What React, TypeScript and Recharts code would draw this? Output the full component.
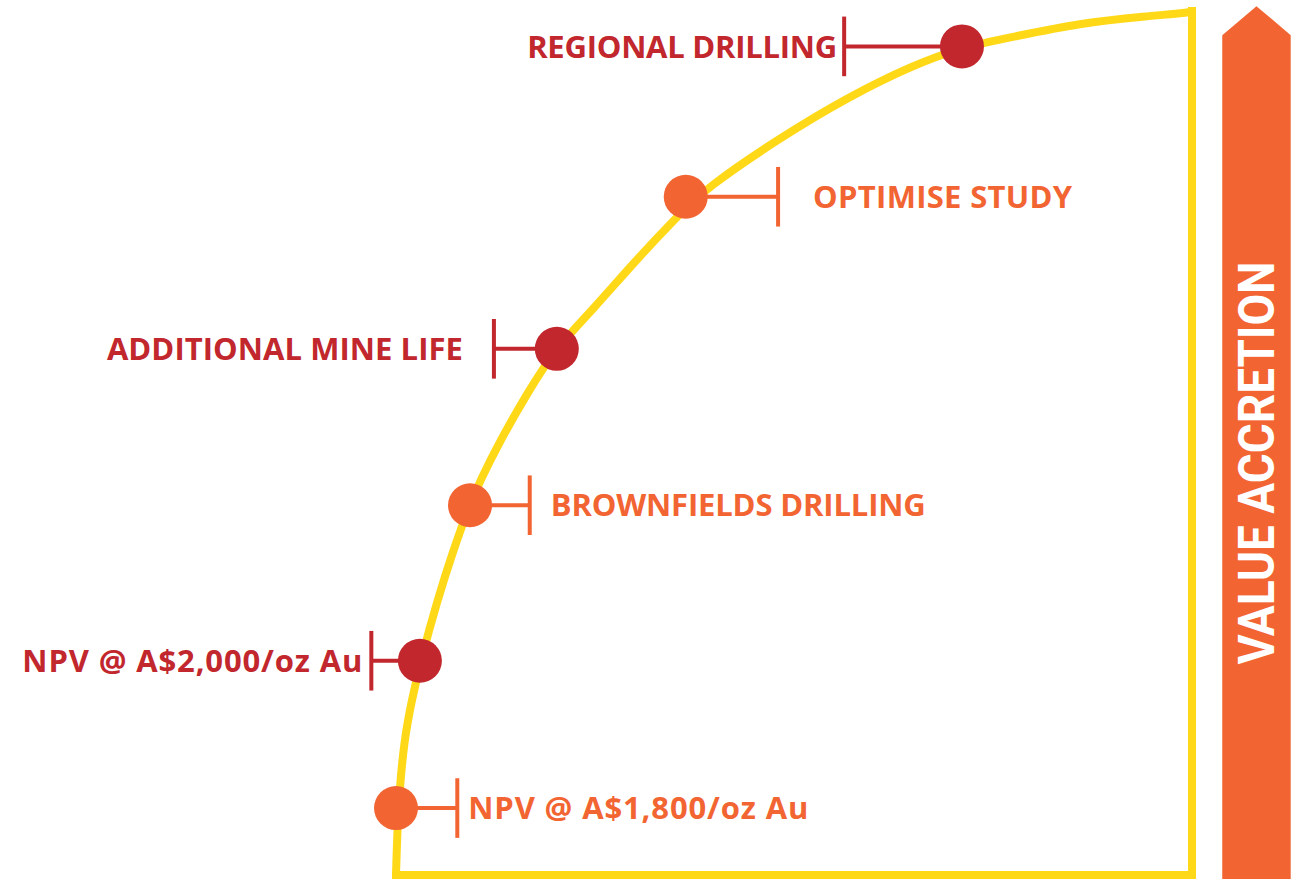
import React from 'react';
import { ComposedChart, XAxis, YAxis, Line, Scatter, ReferenceLine, ReferenceArea } from 'recharts';

// milestones along the value curve (x = progress, y = value, both 0..100)
const milestones = [
  'NPV @ A$1,800/oz Au',
  'NPV @ A$2,000/oz Au',
  'BROWNFIELDS DRILLING',
  'ADDITIONAL MINE LIFE',
  'OPTIMISE STUDY',
  'REGIONAL DRILLING',
];
const stageX = [0, 3.0, 9.3, 20.2, 36.4, 71.1];
const valueY = [7.75, 24.8, 42.8, 60.9, 78.5, 95.9];
// where each connector ends (its end bar)
const reachX = [7.7, -3.1, 16.8, 12.3, 48.0, 56.3];

// the yellow value curve
const curveX = [0, 0.25, 1.0, 2.0, 3.1, 5.2, 7.2, 9.2, 10.6, 13.1, 16.5, 20.1, 24.7, 29.8, 35.3, 39.1, 48.2, 56.7, 65.0, 71.1, 77.5, 85.9, 94.3, 99.7, 100];
const curveY = [0, 7.75, 15.6, 20.3, 24.8, 31.8, 37.6, 42.7, 45.7, 50.3, 55.8, 61.0, 65.4, 70.8, 76.2, 79.6, 85.3, 90.0, 93.75, 95.8, 97.0, 98.6, 99.4, 99.8, 100];

const frameX = [100, 100, 0];
const frameY = [100, 0, 0];

const ORANGE = '#F26532';
const RED = '#C1272D';
const YELLOW = '#FFD918';
const labelGap = [11, 9, 21, 31, 35, 7];
const labelWidth = [340, 340, 375, 356, 259, 310];

const curve = curveX.map((x, i) => ({ x, y: curveY[i] }));
const frame = frameX.map((x, i) => ({ x, y: frameY[i] }));
const points = milestones.map((name, i) => ({
  name,
  x: stageX[i],
  y: valueY[i],
  reach: reachX[i],
  color: i % 2 === 0 ? ORANGE : RED,
  gap: labelGap[i],
  width: labelWidth[i],
  right: reachX[i] > stageX[i],
}));
const labelPoints = points.map(p => ({ ...p, x: p.reach }));

const Dot = (props: any) => {
  const { cx, cy, payload } = props;
  return <circle cx={cx} cy={cy} r={22} fill={payload.color} />;
};

const Label = (props: any) => {
  const { cx, cy, payload } = props;
  return (
    <text
      x={payload.right ? cx + payload.gap : cx - payload.gap}
      y={cy}
      dy="0.36em"
      textAnchor={payload.right ? 'start' : 'end'}
      fill={payload.color}
      fontFamily="'Open Sans', sans-serif"
      fontWeight={700}
      fontSize={31}
      textLength={payload.width}
      lengthAdjust="spacing"
    >
      {payload.name}
    </text>
  );
};

const Arrow = (props: any) => {
  const { x, y, width, height } = props;
  const head = 29;
  const cx = x + width / 2;
  const pts = [
    [x, y + height],
    [x, y],
    [cx, y - head],
    [x + width, y],
    [x + width, y + height],
  ].map(p => p.join(',')).join(' ');
  const ty = 463;
  return (
    <g>
      <polygon points={pts} fill={ORANGE} />
      <text
        x={cx}
        y={ty}
        transform={`rotate(-90 ${cx} ${ty})`}
        textAnchor="middle"
        dy="0.36em"
        fill="#fff"
        fontFamily="Roboto, sans-serif"
        fontWeight={700}
        fontSize={50}
        textLength={403}
        lengthAdjust="spacingAndGlyphs"
      >
        VALUE ACCRETION
      </text>
    </g>
  );
};

export default function App() {
  return (
    <div style={{ position: 'absolute', left: 0, top: 0, background: '#fff' }}>
      <ComposedChart width={1304} height={879} margin={{ top: 0, right: 0, bottom: 0, left: 0 }}>
        <XAxis type="number" dataKey="x" domain={[-49.75, 114.07]} hide allowDataOverflow />
        <YAxis type="number" dataKey="y" domain={[-0.46, 101.27]} hide allowDataOverflow />
        <ReferenceArea x1={103.8} x2={112.4} y1={-0.46} y2={97.2} shape={<Arrow />} ifOverflow="visible" />
        <Line data={frame} dataKey="y" type="linear" stroke={YELLOW} strokeWidth={8} strokeLinecap="square" dot={false} isAnimationActive={false} />
        <Line data={curve} dataKey="y" type="basis" stroke={YELLOW} strokeWidth={8} dot={false} isAnimationActive={false} />
        {points.map(p => (
          <ReferenceLine
            key={'c' + p.name}
            segment={[{ x: p.x, y: p.y }, { x: p.reach, y: p.y }]}
            stroke={p.color}
            strokeWidth={4}
            ifOverflow="visible"
          />
        ))}
        {points.map(p => (
          <ReferenceLine
            key={'t' + p.name}
            segment={[{ x: p.reach, y: p.y - 3.45 }, { x: p.reach, y: p.y + 3.45 }]}
            stroke={p.color}
            strokeWidth={4}
            ifOverflow="visible"
          />
        ))}
        <Scatter data={labelPoints} dataKey="y" shape={<Label />} isAnimationActive={false} />
        <Scatter data={points} dataKey="y" shape={<Dot />} isAnimationActive={false} />
      </ComposedChart>
    </div>
  );
}
